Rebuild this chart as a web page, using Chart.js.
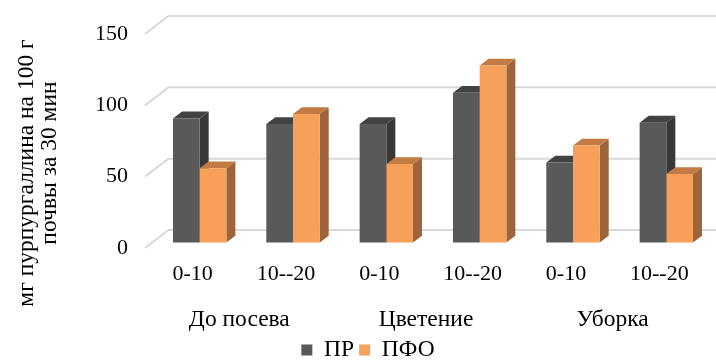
<!DOCTYPE html>
<html>
<head>
<meta charset="utf-8">
<script src="https://cdn.jsdelivr.net/npm/chart.js@4/dist/chart.umd.min.js"></script>
<style>
  html, body { margin: 0; padding: 0; background: #ffffff; }
  #wrap { width: 716px; height: 360px; }
</style>
</head>
<body>
<div id="wrap"><canvas id="c" width="716" height="360"></canvas></div>
<script>
// Soil depth layers (cm) and sampling periods
const depthLabels = ['0-10', '10--20', '0-10', '10--20', '0-10', '10--20'];
const periodLabels = ['До посева', 'Цветение', 'Уборка'];

// Purpurogallin, mg per 100 g of soil per 30 min
const prValues = [87, 83, 83, 105, 56, 84];
const pfoValues = [52, 90, 55, 124, 68, 48];

const seriesNames = ['ПР', 'ПФО'];
const yTickValues = [0, 50, 100, 150];
const axisTitleLines = ['мг пурпургаллина на 100 г', 'почвы за 30 мин'];

const FONT = 'Liberation Serif, Times New Roman, serif';
const NUM_SIZE = 22;     // numeric tick labels
const TEXT_SIZE = 23.5;  // Cyrillic captions

// Pseudo-3D geometry (pixels): front plane -> bar plane -> back wall
const BAR_SHIFT = { dx: 7, dy: -5.5 };
const BAR_DEPTH = { dx: 9, dy: -6.8 };
const WALL_DEPTH = { dx: 23.5, dy: -18 };

const palette = {
  pr:  { front: '#595959', top: '#424242', side: '#383838' },
  pfo: { front: '#F7A05A', top: '#C27B43', side: '#A0643A' }
};

const bar3d = {
  id: 'bar3d',
  beforeDatasetsDraw(chart) {
    const ctx = chart.ctx;
    const y = chart.scales.y;
    const area = chart.chartArea;
    ctx.save();
    // back wall gridlines with their slanted side-wall ends
    ctx.strokeStyle = '#d9d9d9';
    ctx.lineWidth = 2;
    y.ticks.forEach(t => {
      const py = y.getPixelForValue(t.value);
      ctx.beginPath();
      ctx.moveTo(area.left - 1, py);
      ctx.lineTo(area.left - 1 + WALL_DEPTH.dx, py + WALL_DEPTH.dy);
      ctx.lineTo(chart.width, py + WALL_DEPTH.dy);
      ctx.stroke();
    });
    // bars live a little behind the front plane
    ctx.translate(BAR_SHIFT.dx, BAR_SHIFT.dy);
    const metas = chart.data.datasets.map((_, i) => chart.getDatasetMeta(i));
    const faces = [palette.pr, palette.pfo];
    const n = chart.data.labels.length;
    for (let j = 0; j < n; j++) {
      metas.forEach((meta, i) => {
        const el = meta.data[j];
        if (!el) return;
        const { x, y: top, base, width } = el.getProps(['x', 'y', 'base', 'width'], true);
        const l = x - width / 2, r = x + width / 2;
        // right side face
        ctx.fillStyle = faces[i].side;
        ctx.beginPath();
        ctx.moveTo(r, top);
        ctx.lineTo(r + BAR_DEPTH.dx, top + BAR_DEPTH.dy);
        ctx.lineTo(r + BAR_DEPTH.dx, base + BAR_DEPTH.dy);
        ctx.lineTo(r, base);
        ctx.closePath();
        ctx.fill();
        // top face
        ctx.fillStyle = faces[i].top;
        ctx.beginPath();
        ctx.moveTo(l, top);
        ctx.lineTo(l + BAR_DEPTH.dx, top + BAR_DEPTH.dy);
        ctx.lineTo(r + BAR_DEPTH.dx, top + BAR_DEPTH.dy);
        ctx.lineTo(r, top);
        ctx.closePath();
        ctx.fill();
      });
    }
    // front faces are drawn by Chart.js in this same shifted frame
  },
  afterDatasetsDraw(chart) {
    chart.ctx.restore();
  },
  afterDraw(chart) {
    const ctx = chart.ctx;
    ctx.save();
    ctx.fillStyle = '#000000';
    ctx.font = TEXT_SIZE + 'px ' + FONT;
    ctx.textAlign = 'center';
    ctx.textBaseline = 'middle';
    const lines = [
      { text: axisTitleLines[0], x: 27, y: 173 },
      { text: axisTitleLines[1], x: 50, y: 163 }
    ];
    lines.forEach(ln => {
      ctx.save();
      ctx.translate(ln.x, ln.y);
      ctx.rotate(-Math.PI / 2);
      ctx.fillText(ln.text, 0, 0);
      ctx.restore();
    });
    ctx.restore();
  }
};

Chart.defaults.font.family = FONT;
Chart.defaults.font.size = NUM_SIZE;
Chart.defaults.color = '#000000';

new Chart(document.getElementById('c'), {
  type: 'bar',
  data: {
    labels: depthLabels,
    datasets: [
      { label: seriesNames[0], data: prValues, backgroundColor: palette.pr.front, borderWidth: 0, clip: false },
      { label: seriesNames[1], data: pfoValues, backgroundColor: palette.pfo.front, borderWidth: 0, clip: false }
    ]
  },
  options: {
    responsive: false,
    animation: false,
    devicePixelRatio: 1,
    categoryPercentage: 0.572,
    barPercentage: 1,
    layout: { padding: { top: 34, left: 30, right: 10, bottom: 0 } },
    plugins: {
      legend: {
        position: 'bottom',
        maxHeight: 26.75,
        labels: { boxWidth: 11, boxHeight: 11, padding: 5, font: { size: TEXT_SIZE } }
      },
      tooltip: { enabled: false }
    },
    scales: {
      y: {
        min: 0, max: 150,
        afterBuildTicks: s => { s.ticks = yTickValues.map(v => ({ value: v })); },
        ticks: { padding: 18 },
        grid: { display: false, drawTicks: false },
        border: { display: false },
        afterFit: s => { s.width = 116; }
      },
      x: {
        position: 'bottom',
        offset: true,
        ticks: { padding: 12.8, maxRotation: 0, autoSkip: false },
        grid: { display: false, drawTicks: false },
        border: { display: false },
        afterFit: s => { s.height = 42; }
      },
      x2: {
        type: 'category',
        labels: periodLabels,
        position: 'bottom',
        offset: true,
        ticks: { padding: 16, maxRotation: 0, autoSkip: false, font: { size: TEXT_SIZE } },
        grid: { display: false, drawTicks: false },
        border: { display: false },
        afterFit: s => { s.height = 43.25; }
      }
    }
  },
  plugins: [bar3d]
});
</script>
</body>
</html>
